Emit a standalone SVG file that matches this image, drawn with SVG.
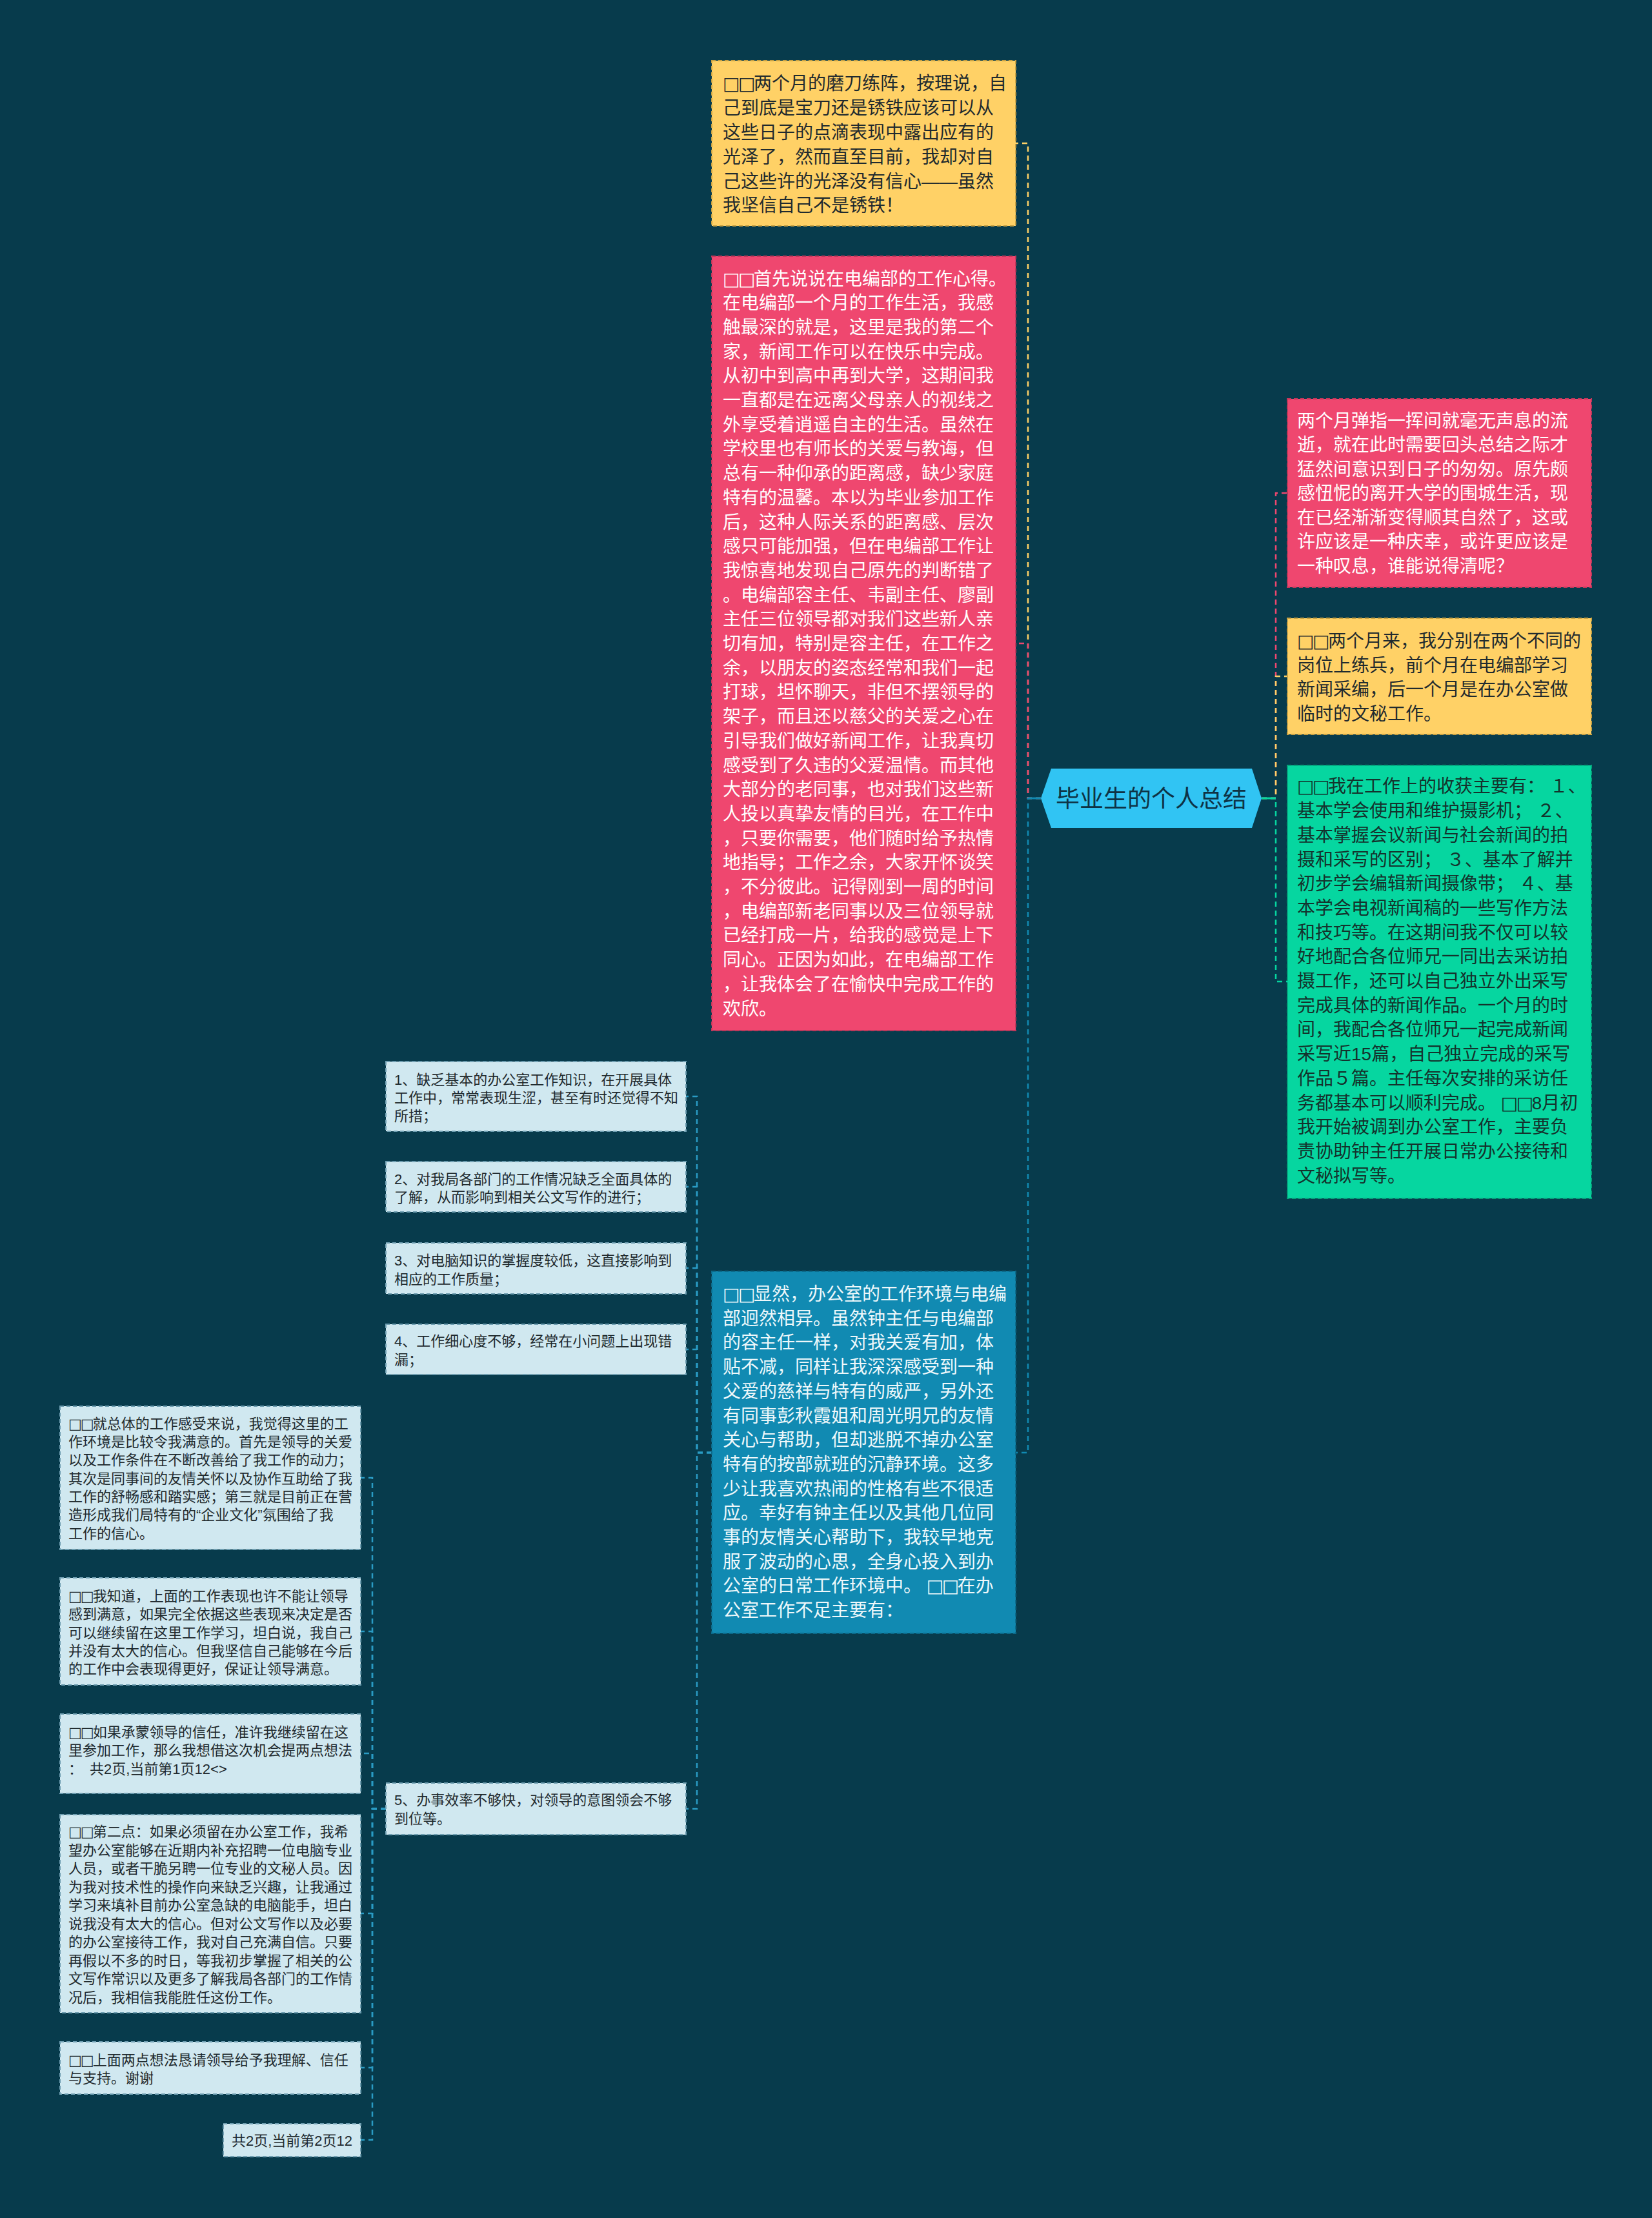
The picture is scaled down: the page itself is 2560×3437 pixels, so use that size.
<svg xmlns="http://www.w3.org/2000/svg" width="2560" height="3437" viewBox="0 0 2560 3437">
<style>
text{font-family:"Liberation Sans","Noto Sans CJK SC",sans-serif;}
.f28{font-size:28px;}
.f22{font-size:22px;}
.sq{font-family:"DejaVu Sans","Noto Sans CJK SC",sans-serif;letter-spacing:-0.09em;}
.dk{fill:#1f2a2e;}
.wh{fill:#ffffff;}
.con{fill:none;stroke-width:2.5;stroke-dasharray:8 6;}
.box{stroke-width:2;stroke-dasharray:6 4;}
.lt{fill:#d0e8f0;stroke:#6f9fb2;}
</style>
<rect x="0" y="0" width="2560" height="3437" fill="#073b4c"/>
<g id="connectors">
<path class="con" stroke="#ffd166" d="M1613,1237 H1593 V222 H1574"/>
<path class="con" stroke="#ef476f" d="M1613,1237 H1593 V997 H1574"/>
<path class="con" stroke="#118ab2" d="M1613,1237 H1593 V2251 H1574"/>
<path class="con" stroke="#ef476f" d="M1955,1237 H1977 V764 H1995"/>
<path class="con" stroke="#ffd166" d="M1955,1237 H1977 V1048 H1995"/>
<path class="con" stroke="#06d6a0" d="M1955,1237 H1977 V1521 H1995"/>
<line x1="1593" y1="1237" x2="1613" y2="1237" stroke="#118ab2" stroke-width="3"/>
<line x1="1955" y1="1237" x2="1977" y2="1237" stroke="#06d6a0" stroke-width="3"/>
<path class="con" stroke="#2a9bc4" d="M1103,2251 H1080 V1699 H1063"/>
<path class="con" stroke="#2a9bc4" d="M1103,2251 H1080 V1839 H1063"/>
<path class="con" stroke="#2a9bc4" d="M1103,2251 H1080 V1965 H1063"/>
<path class="con" stroke="#2a9bc4" d="M1103,2251 H1080 V2091 H1063"/>
<path class="con" stroke="#2a9bc4" d="M1103,2251 H1080 V2803 H1063"/>
<path class="con" stroke="#2a9bc4" d="M598,2803 H577 V2290 H559"/>
<path class="con" stroke="#2a9bc4" d="M598,2803 H577 V2528 H559"/>
<path class="con" stroke="#2a9bc4" d="M598,2803 H577 V2717 H559"/>
<path class="con" stroke="#2a9bc4" d="M598,2803 H577 V2965 H559"/>
<path class="con" stroke="#2a9bc4" d="M598,2803 H577 V3204 H559"/>
<path class="con" stroke="#2a9bc4" d="M598,2803 H577 V3316 H559"/>
</g>
<g id="center">
<polygon points="1613,1237 1629,1191 1940,1191 1955,1237 1940,1283 1629,1283" fill="#31c4f3"/>
<text x="1784" y="1251" font-size="37" text-anchor="middle" fill="#0e3345">毕业生的个人总结</text>
</g>
<g id="n-top-yellow">
<rect class="box" x="1103" y="94" width="471" height="256" fill="#ffd166" stroke="#c9a243"/>
<text class="f28 dk" x="1120" y="139.3"><tspan x="1120"><tspan class="sq">□□</tspan>两个月的磨刀练阵，按理说，自</tspan><tspan x="1120" dy="37.8">己到底是宝刀还是锈铁应该可以从</tspan><tspan x="1120" dy="37.8">这些日子的点滴表现中露出应有的</tspan><tspan x="1120" dy="37.8">光泽了，然而直至目前，我却对自</tspan><tspan x="1120" dy="37.8">己这些许的光泽没有信心——虽然</tspan><tspan x="1120" dy="37.8">我坚信自己不是锈铁！</tspan></text>
</g>
<g id="n-red-left">
<rect class="box" x="1103" y="397" width="471" height="1200" fill="#ef476f" stroke="#c2375a"/>
<text class="f28 wh" x="1120" y="441.5"><tspan x="1120"><tspan class="sq">□□</tspan>首先说说在电编部的工作心得。</tspan><tspan x="1120" dy="37.7">在电编部一个月的工作生活，我感</tspan><tspan x="1120" dy="37.7">触最深的就是，这里是我的第二个</tspan><tspan x="1120" dy="37.7">家，新闻工作可以在快乐中完成。</tspan><tspan x="1120" dy="37.7">从初中到高中再到大学，这期间我</tspan><tspan x="1120" dy="37.7">一直都是在远离父母亲人的视线之</tspan><tspan x="1120" dy="37.7">外享受着逍遥自主的生活。虽然在</tspan><tspan x="1120" dy="37.7">学校里也有师长的关爱与教诲，但</tspan><tspan x="1120" dy="37.7">总有一种仰承的距离感，缺少家庭</tspan><tspan x="1120" dy="37.7">特有的温馨。本以为毕业参加工作</tspan><tspan x="1120" dy="37.7">后，这种人际关系的距离感、层次</tspan><tspan x="1120" dy="37.7">感只可能加强，但在电编部工作让</tspan><tspan x="1120" dy="37.7">我惊喜地发现自己原先的判断错了</tspan><tspan x="1120" dy="37.7">。电编部容主任、韦副主任、廖副</tspan><tspan x="1120" dy="37.7">主任三位领导都对我们这些新人亲</tspan><tspan x="1120" dy="37.7">切有加，特别是容主任，在工作之</tspan><tspan x="1120" dy="37.7">余，以朋友的姿态经常和我们一起</tspan><tspan x="1120" dy="37.7">打球，坦怀聊天，非但不摆领导的</tspan><tspan x="1120" dy="37.7">架子，而且还以慈父的关爱之心在</tspan><tspan x="1120" dy="37.7">引导我们做好新闻工作，让我真切</tspan><tspan x="1120" dy="37.7">感受到了久违的父爱温情。而其他</tspan><tspan x="1120" dy="37.7">大部分的老同事，也对我们这些新</tspan><tspan x="1120" dy="37.7">人投以真挚友情的目光，在工作中</tspan><tspan x="1120" dy="37.7">，只要你需要，他们随时给予热情</tspan><tspan x="1120" dy="37.7">地指导；工作之余，大家开怀谈笑</tspan><tspan x="1120" dy="37.7">，不分彼此。记得刚到一周的时间</tspan><tspan x="1120" dy="37.7">，电编部新老同事以及三位领导就</tspan><tspan x="1120" dy="37.7">已经打成一片，给我的感觉是上下</tspan><tspan x="1120" dy="37.7">同心。正因为如此，在电编部工作</tspan><tspan x="1120" dy="37.7">，让我体会了在愉快中完成工作的</tspan><tspan x="1120" dy="37.7">欢欣。</tspan></text>
</g>
<g id="n-red-right">
<rect class="box" x="1995" y="618" width="471" height="292" fill="#ef476f" stroke="#c2375a"/>
<text class="f28 wh" x="2010" y="661.7"><tspan x="2010">两个月弹指一挥间就毫无声息的流</tspan><tspan x="2010" dy="37.5">逝，就在此时需要回头总结之际才</tspan><tspan x="2010" dy="37.5">猛然间意识到日子的匆匆。原先颇</tspan><tspan x="2010" dy="37.5">感忸怩的离开大学的围城生活，现</tspan><tspan x="2010" dy="37.5">在已经渐渐变得顺其自然了，这或</tspan><tspan x="2010" dy="37.5">许应该是一种庆幸，或许更应该是</tspan><tspan x="2010" dy="37.5">一种叹息，谁能说得清呢？</tspan></text>
</g>
<g id="n-yellow-right">
<rect class="box" x="1995" y="958" width="471" height="180" fill="#ffd166" stroke="#c9a243"/>
<text class="f28 dk" x="2010" y="1003"><tspan x="2010"><tspan class="sq">□□</tspan>两个月来，我分别在两个不同的</tspan><tspan x="2010" dy="37.5">岗位上练兵，前个月在电编部学习</tspan><tspan x="2010" dy="37.5">新闻采编，后一个月是在办公室做</tspan><tspan x="2010" dy="37.5">临时的文秘工作。</tspan></text>
</g>
<g id="n-green">
<rect class="box" x="1995" y="1186" width="471" height="671" fill="#06d6a0" stroke="#04a57b"/>
<text class="f28" fill="#14322c" x="2010" y="1228.4"><tspan x="2010"><tspan class="sq">□□</tspan>我在工作上的收获主要有： １、</tspan><tspan x="2010" dy="37.7">基本学会使用和维护摄影机； ２、</tspan><tspan x="2010" dy="37.7">基本掌握会议新闻与社会新闻的拍</tspan><tspan x="2010" dy="37.7">摄和采写的区别； ３、基本了解并</tspan><tspan x="2010" dy="37.7">初步学会编辑新闻摄像带； ４、基</tspan><tspan x="2010" dy="37.7">本学会电视新闻稿的一些写作方法</tspan><tspan x="2010" dy="37.7">和技巧等。在这期间我不仅可以较</tspan><tspan x="2010" dy="37.7">好地配合各位师兄一同出去采访拍</tspan><tspan x="2010" dy="37.7">摄工作，还可以自己独立外出采写</tspan><tspan x="2010" dy="37.7">完成具体的新闻作品。一个月的时</tspan><tspan x="2010" dy="37.7">间，我配合各位师兄一起完成新闻</tspan><tspan x="2010" dy="37.7">采写近15篇，自己独立完成的采写</tspan><tspan x="2010" dy="37.7">作品５篇。主任每次安排的采访任</tspan><tspan x="2010" dy="37.7">务都基本可以顺利完成。 <tspan class="sq">□□</tspan>8月初</tspan><tspan x="2010" dy="37.7">我开始被调到办公室工作，主要负</tspan><tspan x="2010" dy="37.7">责协助钟主任开展日常办公接待和</tspan><tspan x="2010" dy="37.7">文秘拟写等。</tspan></text>
</g>
<g id="n-blue">
<rect class="box" x="1103" y="1970" width="471" height="561" fill="#118ab2" stroke="#0c6a8a"/>
<text class="f28" fill="#eef8fb" x="1120" y="2015"><tspan x="1120"><tspan class="sq">□□</tspan>显然，办公室的工作环境与电编</tspan><tspan x="1120" dy="37.7">部迥然相异。虽然钟主任与电编部</tspan><tspan x="1120" dy="37.7">的容主任一样，对我关爱有加，体</tspan><tspan x="1120" dy="37.7">贴不减，同样让我深深感受到一种</tspan><tspan x="1120" dy="37.7">父爱的慈祥与特有的威严，另外还</tspan><tspan x="1120" dy="37.7">有同事彭秋霞姐和周光明兄的友情</tspan><tspan x="1120" dy="37.7">关心与帮助，但却逃脱不掉办公室</tspan><tspan x="1120" dy="37.7">特有的按部就班的沉静环境。这多</tspan><tspan x="1120" dy="37.7">少让我喜欢热闹的性格有些不很适</tspan><tspan x="1120" dy="37.7">应。幸好有钟主任以及其他几位同</tspan><tspan x="1120" dy="37.7">事的友情关心帮助下，我较早地克</tspan><tspan x="1120" dy="37.7">服了波动的心思，全身心投入到办</tspan><tspan x="1120" dy="37.7">公室的日常工作环境中。 <tspan class="sq">□□</tspan>在办</tspan><tspan x="1120" dy="37.7">公室工作不足主要有：</tspan></text>
</g>
<g id="n-b1">
<rect class="box lt" x="598" y="1645" width="465" height="108"/>
<text class="f22 dk" x="611" y="1681.3"><tspan x="611">1、缺乏基本的办公室工作知识，在开展具体</tspan><tspan x="611" dy="27.8">工作中，常常表现生涩，甚至有时还觉得不知</tspan><tspan x="611" dy="27.8">所措；</tspan></text>
</g>
<g id="n-b2">
<rect class="box lt" x="598" y="1800" width="465" height="78"/>
<text class="f22 dk" x="611" y="1834.7"><tspan x="611">2、对我局各部门的工作情况缺乏全面具体的</tspan><tspan x="611" dy="28.3">了解，从而影响到相关公文写作的进行；</tspan></text>
</g>
<g id="n-b3">
<rect class="box lt" x="598" y="1926" width="465" height="79"/>
<text class="f22 dk" x="611" y="1960.7"><tspan x="611">3、对电脑知识的掌握度较低，这直接影响到</tspan><tspan x="611" dy="29">相应的工作质量；</tspan></text>
</g>
<g id="n-b4">
<rect class="box lt" x="598" y="2052" width="465" height="78"/>
<text class="f22 dk" x="611" y="2086"><tspan x="611">4、工作细心度不够，经常在小问题上出现错</tspan><tspan x="611" dy="28.5">漏；</tspan></text>
</g>
<g id="n-b5">
<rect class="box lt" x="598" y="2763" width="465" height="80"/>
<text class="f22 dk" x="611" y="2797"><tspan x="611">5、办事效率不够快，对领导的意图领会不够</tspan><tspan x="611" dy="28.5">到位等。</tspan></text>
</g>
<g id="n-l1">
<rect class="box lt" x="93" y="2179" width="466" height="222"/>
<text class="f22 dk" x="106" y="2213.7"><tspan x="106"><tspan class="sq">□□</tspan>就总体的工作感受来说，我觉得这里的工</tspan><tspan x="106" dy="28.3">作环境是比较令我满意的。首先是领导的关爱</tspan><tspan x="106" dy="28.3">以及工作条件在不断改善给了我工作的动力；</tspan><tspan x="106" dy="28.3">其次是同事间的友情关怀以及协作互助给了我</tspan><tspan x="106" dy="28.3">工作的舒畅感和踏实感；第三就是目前正在营</tspan><tspan x="106" dy="28.3">造形成我们局特有的“企业文化”氛围给了我</tspan><tspan x="106" dy="28.3">工作的信心。</tspan></text>
</g>
<g id="n-l2">
<rect class="box lt" x="93" y="2445" width="466" height="166"/>
<text class="f22 dk" x="106" y="2481"><tspan x="106"><tspan class="sq">□□</tspan>我知道，上面的工作表现也许不能让领导</tspan><tspan x="106" dy="28.3">感到满意，如果完全依据这些表现来决定是否</tspan><tspan x="106" dy="28.3">可以继续留在这里工作学习，坦白说，我自己</tspan><tspan x="106" dy="28.3">并没有太大的信心。但我坚信自己能够在今后</tspan><tspan x="106" dy="28.3">的工作中会表现得更好，保证让领导满意。</tspan></text>
</g>
<g id="n-l3">
<rect class="box lt" x="93" y="2656" width="466" height="123"/>
<text class="f22 dk" x="106" y="2692"><tspan x="106"><tspan class="sq">□□</tspan>如果承蒙领导的信任，准许我继续留在这</tspan><tspan x="106" dy="28.3">里参加工作，那么我想借这次机会提两点想法</tspan><tspan x="106" dy="28.3">：　共2页,当前第1页12&lt;&gt;</tspan></text>
</g>
<g id="n-l4">
<rect class="box lt" x="93" y="2812" width="466" height="307"/>
<text class="f22 dk" x="106" y="2846"><tspan x="106"><tspan class="sq">□□</tspan>第二点：如果必须留在办公室工作，我希</tspan><tspan x="106" dy="28.5">望办公室能够在近期内补充招聘一位电脑专业</tspan><tspan x="106" dy="28.5">人员，或者干脆另聘一位专业的文秘人员。因</tspan><tspan x="106" dy="28.5">为我对技术性的操作向来缺乏兴趣，让我通过</tspan><tspan x="106" dy="28.5">学习来填补目前办公室急缺的电脑能手，坦白</tspan><tspan x="106" dy="28.5">说我没有太大的信心。但对公文写作以及必要</tspan><tspan x="106" dy="28.5">的办公室接待工作，我对自己充满自信。只要</tspan><tspan x="106" dy="28.5">再假以不多的时日，等我初步掌握了相关的公</tspan><tspan x="106" dy="28.5">文写作常识以及更多了解我局各部门的工作情</tspan><tspan x="106" dy="28.5">况后，我相信我能胜任这份工作。</tspan></text>
</g>
<g id="n-l5">
<rect class="box lt" x="93" y="3164" width="466" height="81"/>
<text class="f22 dk" x="106" y="3200"><tspan x="106"><tspan class="sq">□□</tspan>上面两点想法恳请领导给予我理解、信任</tspan><tspan x="106" dy="28">与支持。谢谢</tspan></text>
</g>
<g id="n-l6">
<rect class="box lt" x="346" y="3291" width="213" height="51"/>
<text class="f22 dk" x="546" y="3325" text-anchor="end">共2页,当前第2页12</text>
</g>
</svg>
